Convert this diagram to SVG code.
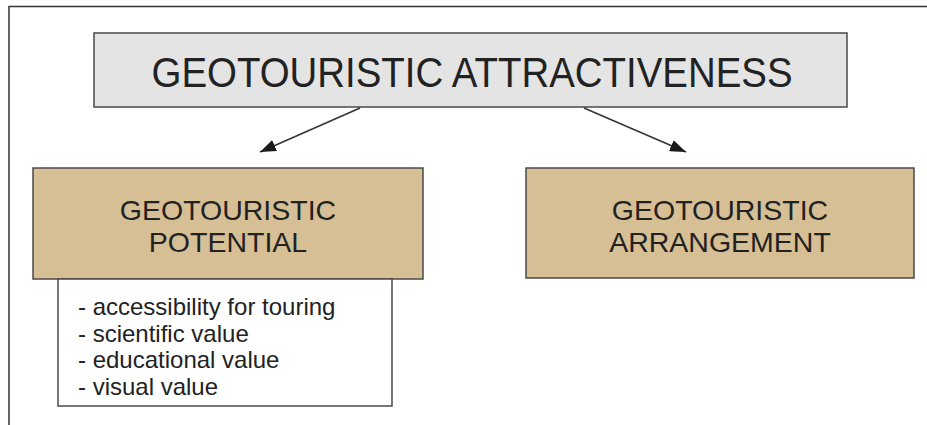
<svg xmlns="http://www.w3.org/2000/svg" width="927" height="425" viewBox="0 0 927 425">
<defs>
<style>
.box{stroke:#4a4a4a;stroke-width:1.5}
.tan{fill:#d6bf95}
.t{font-family:"Liberation Sans",Arial,sans-serif;fill:#222;text-anchor:middle}
.l{font-family:"Liberation Sans",Arial,sans-serif;fill:#222;font-size:24px}
.c{stroke:#333;stroke-width:1.5;fill:none}
</style>
<marker id="ah" viewBox="0 0 10 10" refX="10" refY="5" markerWidth="16" markerHeight="12" markerUnits="userSpaceOnUse" orient="auto" preserveAspectRatio="none">
<path d="M0,0 L10,5 L0,10 z" fill="#1a1a1a"/>
</marker>
</defs>
<rect width="927" height="425" fill="#fff"/>
<path d="M9,425 V6.5 H927" fill="none" stroke="#333" stroke-width="1.5"/>
<g id="attractiveness">
<rect class="box" x="94" y="33" width="753" height="74" fill="#e4e4e4"/>
<text class="t" x="472" y="87" font-size="42" textLength="641" lengthAdjust="spacingAndGlyphs">GEOTOURISTIC ATTRACTIVENESS</text>
</g>
<g id="potential">
<rect class="box tan" x="33" y="168" width="390" height="111"/>
<text class="t" x="228" y="220" font-size="28.5">GEOTOURISTIC</text>
<text class="t" x="228" y="252" font-size="28.5">POTENTIAL</text>
</g>
<g id="potential-list">
<rect class="box" x="58" y="279" width="334" height="127" fill="#fff"/>
<text class="l" x="78" y="315">- accessibility for touring</text>
<text class="l" x="78" y="342">- scientific value</text>
<text class="l" x="78" y="368">- educational value</text>
<text class="l" x="78" y="395">- visual value</text>
</g>
<g id="arrangement">
<rect class="box tan" x="526" y="168" width="388" height="110"/>
<text class="t" x="720" y="220" font-size="28.5">GEOTOURISTIC</text>
<text class="t" x="720" y="252" font-size="28.5">ARRANGEMENT</text>
</g>
<g id="connectors">
<line class="c" x1="360" y1="108" x2="260" y2="152" marker-end="url(#ah)"/>
<line class="c" x1="584" y1="108" x2="686" y2="152" marker-end="url(#ah)"/>
</g>
</svg>
